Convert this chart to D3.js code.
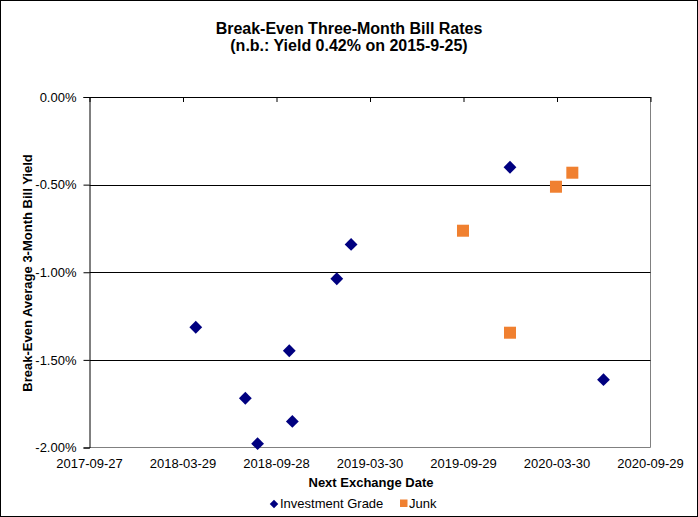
<!DOCTYPE html>
<html>
<head>
<meta charset="utf-8">
<script src="https://cdn.jsdelivr.net/npm/d3@7"></script>
<style>
  html, body { margin: 0; padding: 0; background: #fff; }
  svg { display: block; font-family: "Liberation Sans", Arial, sans-serif; }
</style>
</head>
<body>
<svg id="chart" width="698" height="517"></svg>
<script>
// ---- Data ----
const igDates  = ["2018-04-23","2018-10-23","2018-07-29","2018-10-29","2018-08-22","2019-02-21","2019-01-24","2019-12-29","2020-06-29"];
const igValues = [-1.314, -1.448, -1.719, -1.851, -1.978, -0.841, -1.037, -0.401, -1.613];
const junkDates  = ["2019-09-28","2020-03-28","2020-04-29","2019-12-29"];
const junkValues = [-0.763, -0.512, -0.432, -1.345];
const xTickLabels = ["2017-09-27","2018-03-29","2018-09-28","2019-03-30","2019-09-29","2020-03-30","2020-09-29"];
const yTicks = [0, -0.5, -1.0, -1.5, -2.0];
const yTickLabels = ["0.00%", "-0.50%", "-1.00%", "-1.50%", "-2.00%"];
const titleLines = ["Break-Even Three-Month Bill Rates", "(n.b.: Yield 0.42% on 2015-9-25)"];
const seriesNames = ["Investment Grade", "Junk"];

const parse = d3.utcParse("%Y-%m-%d");
const W = 698, H = 517;
const m = { left: 89.5, right: 650.5, top: 97, bottom: 447.5 };
const svg = d3.select("#chart");

svg.append("rect").attr("x", 0.5).attr("y", 0.5).attr("width", W - 1).attr("height", H - 1)
  .attr("fill", "#fff").attr("stroke", "#000");

const x = d3.scaleUtc()
  .domain([parse(xTickLabels[0]), parse(xTickLabels[xTickLabels.length - 1])])
  .range([m.left, m.right]);
const y = d3.scaleLinear().domain([-2, 0]).range([m.bottom, m.top]);

// Plot area border (gray right/bottom)
svg.append("path")
  .attr("d", `M${m.left},${m.bottom}H${m.right}V${m.top}`)
  .attr("fill", "none").attr("stroke", "#808080");

// Gridlines
svg.append("g").selectAll("line").data(yTicks.filter(v => v > -2)).join("line")
  .attr("x1", m.left).attr("x2", m.right)
  .attr("y1", d => Math.round(y(d)) + 0.5).attr("y2", d => Math.round(y(d)) + 0.5)
  .attr("stroke", "#000");

// Y axis
const yAxis = d3.axisLeft(y).tickValues(yTicks).tickSize(6).tickPadding(7)
  .tickFormat((d, i) => yTickLabels[i]);
const gy = svg.append("g").attr("transform", `translate(${m.left},0)`).call(yAxis);
gy.select(".domain").attr("stroke", "#000");
gy.selectAll("line").attr("stroke", "#000");
gy.selectAll("text").attr("font-size", 13).attr("fill", "#000")
  .attr("font-family", "Liberation Sans, Arial, sans-serif");

// X axis at 0% with ticks pointing down; labels at bottom
const xTickDates = xTickLabels.map(parse);
const gx = svg.append("g").attr("transform", `translate(0,${m.top})`)
  .call(d3.axisTop(x).tickValues(xTickDates).tickSize(-5).tickFormat(""));
gx.select(".domain").remove();
gx.selectAll("line").attr("stroke", "#000");
svg.append("line").attr("x1", m.left).attr("x2", m.right).attr("y1", m.top + 0.5).attr("y2", m.top + 0.5).attr("stroke", "#000");

svg.append("g").selectAll("text").data(xTickDates).join("text")
  .attr("x", d => x(d)).attr("y", 468)
  .attr("text-anchor", "middle").attr("font-size", 13).attr("fill", "#000")
  .text((d, i) => xTickLabels[i]);

// Titles
svg.append("text").attr("x", 349).attr("y", 34).attr("text-anchor", "middle")
  .attr("font-size", 16).attr("font-weight", "bold").text(titleLines[0]);
svg.append("text").attr("x", 349).attr("y", 51).attr("text-anchor", "middle")
  .attr("font-size", 16).attr("font-weight", "bold").text(titleLines[1]);

svg.append("text").attr("x", 371).attr("y", 487).attr("text-anchor", "middle")
  .attr("font-size", 13).attr("font-weight", "bold").text("Next Exchange Date");
svg.append("text").attr("transform", "translate(32,273) rotate(-90)").attr("text-anchor", "middle")
  .attr("font-size", 13).attr("font-weight", "bold").text("Break-Even Average 3-Month  Bill Yield");

// Marks
const diamond = d3.symbol().type(d3.symbolSquare).size(82);
svg.append("g").selectAll("path").data(igDates.map((d, i) => ({ d: parse(d), v: igValues[i] }))).join("path")
  .attr("d", diamond)
  .attr("transform", p => `translate(${x(p.d)},${y(p.v)}) rotate(45)`)
  .attr("fill", "#000080");

const sq = 12;
svg.append("g").selectAll("rect").data(junkDates.map((d, i) => ({ d: parse(d), v: junkValues[i] }))).join("rect")
  .attr("x", p => x(p.d) - sq / 2).attr("y", p => y(p.v) - sq / 2)
  .attr("width", sq).attr("height", sq)
  .attr("fill", "#F08030");

// Legend
const lg = svg.append("g");
lg.append("path").attr("d", d3.symbol().type(d3.symbolSquare).size(36))
  .attr("transform", "translate(274,504) rotate(45)").attr("fill", "#000080");
lg.append("text").attr("x", 280).attr("y", 508).attr("font-size", 13).text(seriesNames[0]);
lg.append("rect").attr("x", 400).attr("y", 499.5).attr("width", 7.5).attr("height", 7.5).attr("fill", "#F08030");
lg.append("text").attr("x", 409).attr("y", 508).attr("font-size", 13).text(seriesNames[1]);
</script>
</body>
</html>
